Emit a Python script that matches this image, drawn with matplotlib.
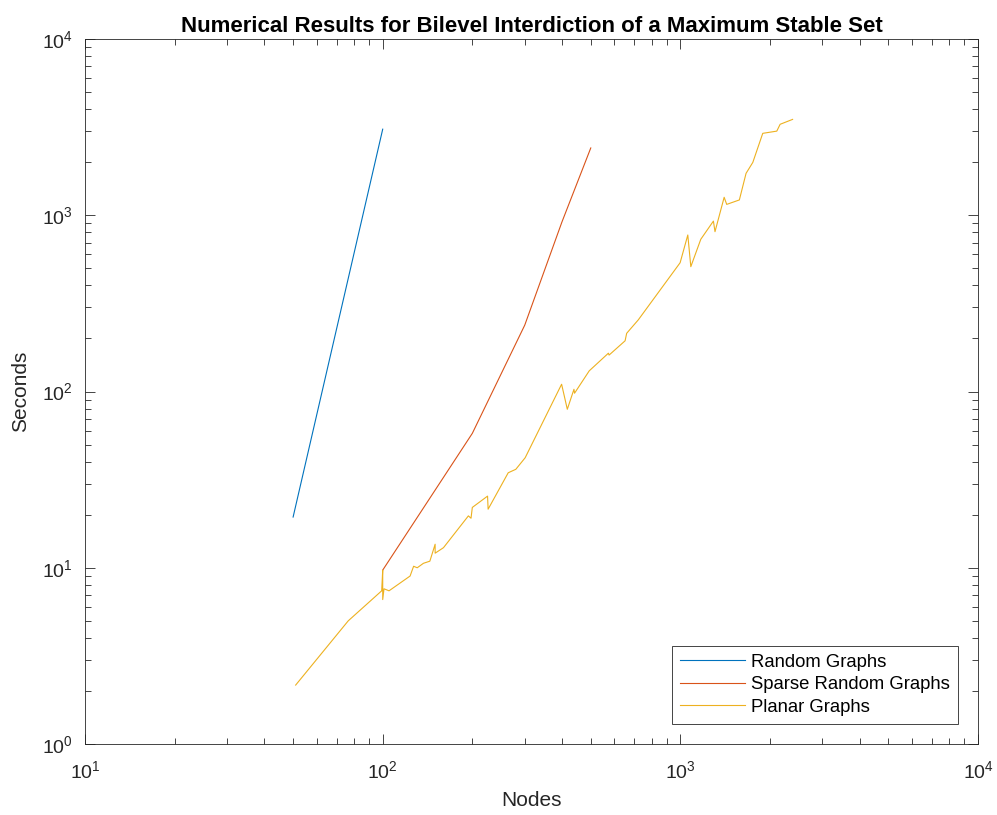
import matplotlib.pyplot as plt
from matplotlib.ticker import LogLocator, NullFormatter

plt.rcParams['font.family'] = ['Liberation Sans', 'DejaVu Sans']
plt.rcParams['mathtext.fontset'] = 'custom'
plt.rcParams['mathtext.rm'] = 'Liberation Sans'
plt.rcParams['mathtext.it'] = 'Liberation Sans'

# Random graphs
rand_n = [50, 100]
rand_t = [19.4, 3080]

# Sparse random graphs
sparse_n = [100, 200, 300, 400, 500]
sparse_t = [9.7, 57.9, 238, 916, 2410]

# Planar graphs
planar_n = [51, 75.7, 76.6, 99.2, 100, 100, 101, 105, 123.6, 127, 130.6, 137, 144,
            150, 150, 160, 194, 198, 200, 225, 226, 264, 280, 301, 399, 417, 439,
            441, 494, 573, 576, 652, 660, 722, 998, 1059, 1084, 1171, 1291, 1307,
            1403, 1431, 1578, 1662, 1751, 1891, 2108, 2163, 2382]
planar_t = [2.16, 4.88, 5.0, 7.4, 9.7, 6.6, 7.6, 7.4, 8.98, 10.2, 10.0, 10.6, 10.9,
            13.6, 12.1, 13.0, 19.7, 19.1, 22.0, 25.5, 21.5, 34.6, 36.2, 42.1, 110,
            79.3, 103, 97.8, 131, 165, 161, 194, 214, 255, 538, 773, 511, 731, 927,
            807, 1265, 1153, 1222, 1730, 1995, 2917, 3003, 3283, 3500]

fig = plt.figure(figsize=(9.97, 8.15), dpi=100)
ax = fig.add_axes([0.0853, 0.0871, 0.8957, 0.8650])

ax.loglog(rand_n, rand_t, color='#0072BD', lw=0.8, label='Random Graphs')
ax.loglog(sparse_n, sparse_t, color='#D95319', lw=0.8, label='Sparse Random Graphs')
ax.loglog(planar_n, planar_t, color='#EDB120', lw=0.8, label='Planar Graphs')

ax.set_xlim(10, 1e4)
ax.set_ylim(1, 1e4)
ax.xaxis.set_major_locator(LogLocator(base=10, numticks=10))
ax.yaxis.set_major_locator(LogLocator(base=10, numticks=10))
ax.xaxis.set_minor_locator(LogLocator(base=10, subs=range(2, 10), numticks=20))
ax.yaxis.set_minor_locator(LogLocator(base=10, subs=range(2, 10), numticks=20))
ax.xaxis.set_minor_formatter(NullFormatter())
ax.yaxis.set_minor_formatter(NullFormatter())

ax.tick_params(which='both', direction='in', top=True, right=True,
               colors='#262626', labelsize=14, width=0.6)
ax.tick_params(which='major', length=7)
ax.tick_params(which='minor', length=4)
ax.tick_params(axis='x', pad=12)
ax.tick_params(axis='y', pad=9)
for s in ax.spines.values():
    s.set_color('#262626')
    s.set_linewidth(0.6)

ax.set_title('Numerical Results for Bilevel Interdiction of a Maximum Stable Set',
             fontsize=16, fontweight='bold', color='black', pad=5)
ax.set_xlabel('Nodes', fontsize=15, color='#262626', labelpad=6)
ax.set_ylabel('Seconds', fontsize=15, color='#262626', labelpad=8)

leg = ax.legend(loc='lower right', bbox_to_anchor=(0.978, 0.028), borderaxespad=0,
                fontsize=13.3, fancybox=False, framealpha=1, edgecolor='#262626',
                handlelength=3.5, borderpad=0.45, labelspacing=0.3,
                handletextpad=0.35)
leg.get_frame().set_linewidth(0.6)

fig.savefig('out.png', dpi=100)
